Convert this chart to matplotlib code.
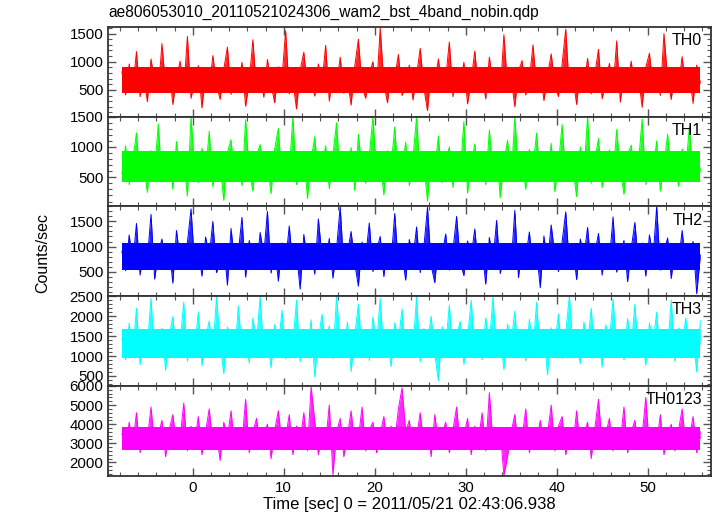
import numpy as np
import matplotlib.pyplot as plt
from matplotlib.ticker import MultipleLocator

plt.rcParams['font.family'] = ['Liberation Sans', 'DejaVu Sans']

title = 'ae806053010_20110521024306_wam2_bst_4band_nobin.qdp'
names = ['TH0', 'TH1', 'TH2', 'TH3', 'TH0123']
colors = ['#ff0000', '#00ff00', '#0000ff', '#00ffff', '#ff00ff']

# отсчёты кривой блеска (шаг 0.4 с)
th0 = [820, 410, 960, 530, 1180, 380, 740, 290, 1050, 620,
       450, 1320, 560, 880, 240, 710, 1010, 470, 1450, 350,
       690, 930, 180, 780, 520, 1110, 600, 330, 870, 1260,
       420, 760, 560, 990, 210, 650, 1390, 480, 820, 370,
       1040, 590, 270, 910, 700, 1550, 430, 640, 160, 850,
       1170, 510, 730, 390, 960, 620, 1290, 300, 800, 540,
       1080, 440, 690, 230, 920, 1400, 570, 350, 780, 1000,
       480, 1600, 610, 270, 860, 720, 1130, 400, 590, 940,
       320, 760, 1240, 530, 130, 880, 650, 1050, 460, 710,
       1350, 380, 820, 590, 990, 250, 670, 1190, 500, 770,
       340, 1080, 620, 900, 450, 1480, 560, 720, 200, 830,
       1020, 410, 680, 1300, 530, 870, 310, 750, 1140, 600,
       380, 960, 1580, 470, 700, 240, 890, 550, 1060, 430,
       780, 1220, 340, 650, 970, 510, 1370, 280, 840, 620,
       1010, 450, 730, 190, 900, 1150, 560, 800, 400, 1500,
       690, 330, 870, 590, 1090, 470, 760, 260, 940, 620]

th1 = [560, 1020, 380, 790, 1230, 470, 680, 250, 940, 610,
       1380, 420, 720, 880, 300, 1090, 540, 760, 190, 1500,
       650, 410, 980, 570, 1260, 340, 830, 690, 120, 910,
       1120, 480, 750, 360, 1450, 600, 270, 860, 1040, 520,
       700, 230, 970, 1310, 440, 810, 590, 1500, 380, 660,
       920, 150, 780, 1170, 500, 640, 1020, 310, 870, 1400,
       460, 730, 560, 990, 280, 1210, 620, 400, 850, 1500,
       530, 760, 210, 940, 680, 1330, 450, 590, 1080, 360,
       800, 1500, 490, 700, 110, 920, 630, 1180, 410, 770,
       1000, 330, 860, 560, 1420, 240, 690, 1050, 520, 820,
       380, 1280, 610, 900, 160, 740, 1110, 470, 1500, 580,
       850, 300, 960, 690, 1230, 430, 780, 550, 1060, 260,
       720, 1370, 490, 880, 610, 180, 1000, 560, 1500, 400,
       790, 1140, 330, 670, 950, 500, 1290, 620, 220, 880,
       1030, 460, 740, 1460, 380, 820, 590, 1100, 270, 700,
       1210, 510, 860, 350, 970, 640, 1340, 430, 780, 600]

th2 = [900, 520, 1230, 680, 1460, 430, 1010, 760, 1640, 350,
       880, 1150, 600, 970, 270, 1320, 730, 540, 1080, 1750,
       620, 940, 410, 1190, 810, 1500, 480, 700, 1030, 230,
       1360, 660, 890, 1580, 390, 1120, 750, 560, 1280, 840,
       1700, 470, 980, 310, 1070, 690, 1410, 580, 860, 150,
       1240, 720, 1010, 450, 1550, 800, 630, 1160, 370, 950,
       1800, 540, 870, 1300, 660, 210, 1090, 780, 1470, 500,
       920, 1200, 400, 1030, 710, 1660, 590, 850, 330, 1140,
       760, 1390, 480, 990, 1780, 620, 280, 1060, 840, 1250,
       530, 930, 1600, 690, 420, 1110, 800, 1350, 570, 970,
       250, 1180, 730, 1520, 460, 880, 1040, 640, 1720, 380,
       1010, 770, 1290, 550, 900, 180, 1210, 680, 1430, 820,
       500, 1090, 1690, 610, 950, 340, 1150, 790, 1380, 560,
       870, 1260, 430, 1000, 720, 1590, 490, 840, 1120, 300,
       960, 1480, 650, 1070, 410, 1230, 780, 1800, 530, 900,
       1170, 360, 990, 700, 1320, 580, 880, 1100, 60, 830]

th3 = [1450, 900, 1820, 1100, 2200, 780, 1560, 1250, 2450, 960,
       1380, 1700, 640, 1500, 1990, 1020, 1330, 2350, 870, 1620,
       1180, 2100, 750, 1440, 1880, 1060, 2500, 1290, 560, 1730,
       1400, 980, 2250, 1150, 1600, 820, 1950, 1340, 2500, 1040,
       1480, 700, 1790, 1230, 2150, 930, 1550, 1310, 2400, 860,
       1670, 1090, 1910, 480, 1420, 2050, 1200, 1760, 940, 2500,
       1350, 1030, 1850, 610, 1520, 2300, 1110, 1640, 890, 1980,
       1260, 2450, 1000, 1470, 730, 1830, 1380, 2180, 970, 1580,
       1140, 2500, 850, 1690, 1320, 2000, 1050, 380, 1740, 1240,
       2280, 960, 1510, 1870, 790, 1430, 2400, 1160, 1630, 910,
       1960, 1280, 2500, 1070, 1490, 660, 1800, 1350, 2120, 1000,
       1580, 880, 1920, 1200, 2350, 1020, 1460, 530, 1710, 1300,
       2050, 940, 1600, 2500, 1130, 1390, 810, 1850, 1270, 2200,
       990, 1540, 720, 1780, 1360, 2430, 1080, 1650, 900, 1940,
       1230, 2300, 1010, 1500, 770, 1830, 1330, 2100, 950, 1590,
       1170, 2400, 860, 1700, 1260, 1960, 1050, 1450, 600, 1880]

th0123 = [3500, 2700, 4100, 3000, 4600, 2500, 3800, 3200, 4900, 2800,
          3400, 4200, 2300, 3700, 4500, 2900, 3300, 5100, 2600, 3900,
          3100, 4400, 2400, 3600, 4800, 2900, 3500, 2100, 4100, 3300,
          4700, 2700, 3800, 3000, 5300, 2500, 3600, 4300, 2800, 3400,
          4000, 2200, 3700, 4700, 2900, 3300, 4500, 2400, 3900, 3100,
          4600, 2600, 5950, 4200, 2400, 3800, 3000, 5000, 1350, 3600,
          4300, 2300, 3400, 4700, 2900, 3200, 4900, 2600, 3700, 4100,
          2500, 3500, 4400, 2800, 3900, 3100, 4800, 5900, 3600, 4200,
          2700, 3300, 4600, 2900, 3800, 2300, 4500, 3000, 3500, 4100,
          2500, 3700, 4900, 2800, 3400, 4300, 2400, 3900, 3100, 4600,
          2600, 5650, 3000, 2900, 3700, 1300, 2300, 3600, 4500, 2700,
          3300, 4800, 2500, 3800, 3100, 4200, 2800, 3500, 5000, 2600,
          3900, 4400, 2400, 3600, 3000, 4700, 2700, 3400, 4100, 2200,
          3800, 5300, 2900, 3500, 4300, 2600, 3700, 3100, 4900, 2500,
          3600, 4200, 2800, 3400, 5400, 2700, 3800, 3000, 4500, 2400,
          3500, 4000, 2600, 3700, 4800, 2900, 3300, 4400, 2500, 3600]

series = [th0, th1, th2, th3, th0123]
t_start, dt = -7.8, 0.4

# сплошная середина полосы и её центр
core_lo = [440, 420, 540, 950, 2650]
core_hi = [900, 940, 1080, 1680, 3850]
core_mid = [660, 670, 800, 1300, 3250]

ylims = [(25, 1620), (20, 1500), (10, 1800), (250, 2500), (1300, 6000)]
ymajor = [500, 500, 500, 500, 1000]
yminor = [100, 100, 100, 100, 200]

fig, axes = plt.subplots(5, 1, sharex=True, figsize=(7.17, 5.16), dpi=100)
fig.subplots_adjust(left=0.151, right=0.992, top=0.948, bottom=0.078, hspace=0)

for i, ax in enumerate(axes):
    y = np.array(series[i])
    t = t_start + dt * np.arange(len(y))
    ax.fill_between(t, core_mid[i], y, color=colors[i], lw=0, alpha=0.85)
    ax.fill_between([t[0], t[-1]], core_lo[i], core_hi[i], color=colors[i], lw=0)
    ax.plot(t, y, color=colors[i], lw=0.7)

    ax.set_ylim(*ylims[i])
    ax.yaxis.set_major_locator(MultipleLocator(ymajor[i]))
    ax.yaxis.set_minor_locator(MultipleLocator(yminor[i]))
    ax.xaxis.set_major_locator(MultipleLocator(10))
    ax.xaxis.set_minor_locator(MultipleLocator(2))
    ax.tick_params(which='both', direction='in', top=True, right=True, labelsize=10.8, colors='black')
    ax.tick_params(which='major', length=6, width=1, color='#555555')
    ax.tick_params(which='minor', length=3, width=0.8, color='#555555')
    for s in ax.spines.values():
        s.set_linewidth(1.3)
        s.set_color('#333333')
    ax.text(0.985, 0.93, names[i], transform=ax.transAxes, ha='right', va='top', fontsize=11.5)

axes[-1].set_xlim(-9.3, 57)
axes[-1].set_xlabel('Time [sec] 0 = 2011/05/21 02:43:06.938', fontsize=12, labelpad=2)
fig.text(0.059, 0.51, 'Counts/sec', rotation=90, ha='center', va='center', fontsize=11.5)
fig.text(0.151, 0.975, title, ha='left', va='center', fontsize=11.2)

plt.savefig('out.png', dpi=100)
